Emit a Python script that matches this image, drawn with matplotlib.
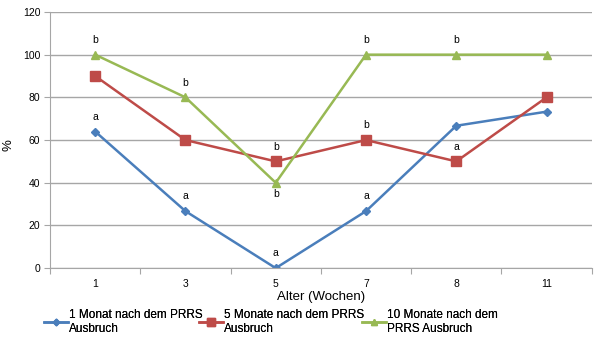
import numpy as np
import matplotlib.pyplot as plt

plt.rcParams['font.family'] = ['Liberation Sans', 'DejaVu Sans']

weeks = ['1', '3', '5', '7', '8', '11']
one_month = [64, 26.7, 0, 26.7, 66.7, 73.3]
five_months = [90, 60, 50, 60, 50, 80]
ten_months = [100, 80, 40, 100, 100, 100]
series_names = ['1 Monat nach dem PRRS\nAusbruch',
                '5 Monate nach dem PRRS\nAusbruch',
                '10 Monate nach dem\nPRRS Ausbruch']

# letters: (series index, category index, letter, above?)
letters = [(0, 0, 'a', True), (0, 1, 'a', True), (0, 2, 'a', True), (0, 3, 'a', True),
           (1, 2, 'b', True), (1, 3, 'b', True), (1, 4, 'a', True),
           (2, 0, 'b', True), (2, 1, 'b', True), (2, 2, 'b', False), (2, 3, 'b', True), (2, 4, 'b', True)]

blue = '#4A7EBB'
red = '#BE4B48'
green = '#98B954'

fig = plt.figure(figsize=(6.1, 3.42), dpi=100)
ax = fig.add_axes([0.082, 0.216, 0.888, 0.749])

x = np.arange(len(weeks))
data = [one_month, five_months, ten_months]
l1, = ax.plot(x, one_month, color=blue, lw=1.8, marker='D', ms=4.2)
l2, = ax.plot(x, five_months, color=red, lw=1.8, marker='s', ms=6.5)
l3, = ax.plot(x, ten_months, color=green, lw=1.8, marker='^', ms=6)

for s, c, t, above in letters:
    yv = data[s][c]
    off = 7 if above else -12
    ax.annotate(t, (x[c], yv), xytext=(0, off), textcoords='offset points',
                ha='center', va='bottom', fontsize=7.5)

ax.set_xlim(-0.5, 5.5)
ax.set_ylim(0, 120)
ax.set_yticks(np.arange(0, 121, 20))
ax.yaxis.grid(True, color='#A6A6A6', lw=1)
ax.set_axisbelow(True)
ax.set_xticks(np.arange(-0.5, 5.6, 1))
ax.set_xticklabels([])
ax.set_xticks(x, minor=True)
ax.set_xticklabels(weeks, minor=True)
ax.tick_params(axis='x', which='minor', length=0, pad=8, labelsize=7.5)
ax.tick_params(axis='x', which='major', length=4, color='#A6A6A6')
ax.tick_params(axis='y', length=4, color='#A6A6A6', labelsize=7.5, pad=3)
for side in ['top', 'right']:
    ax.spines[side].set_visible(False)
for side in ['left', 'bottom']:
    ax.spines[side].set_color('#A6A6A6')

fig.text(8 / 610, 1 - 145 / 342, '%', rotation=90, fontsize=9.5, ha='center', va='center')
ax.set_xlabel('Alter (Wochen)', fontsize=9.5, labelpad=1)

handles = [l1, l2, l3]
lefts = [37, 192, 355]
for h, name, lx in zip(handles, series_names, lefts):
    leg = fig.legend([h], [name], loc='lower left', bbox_to_anchor=(lx / 610, 0.0),
                     frameon=False, fontsize=8.5, handlelength=2.0, handletextpad=0.1,
                     markerscale=0.8, borderaxespad=0.2)
    fig.add_artist(leg)

fig.savefig('out.png', dpi=100)
